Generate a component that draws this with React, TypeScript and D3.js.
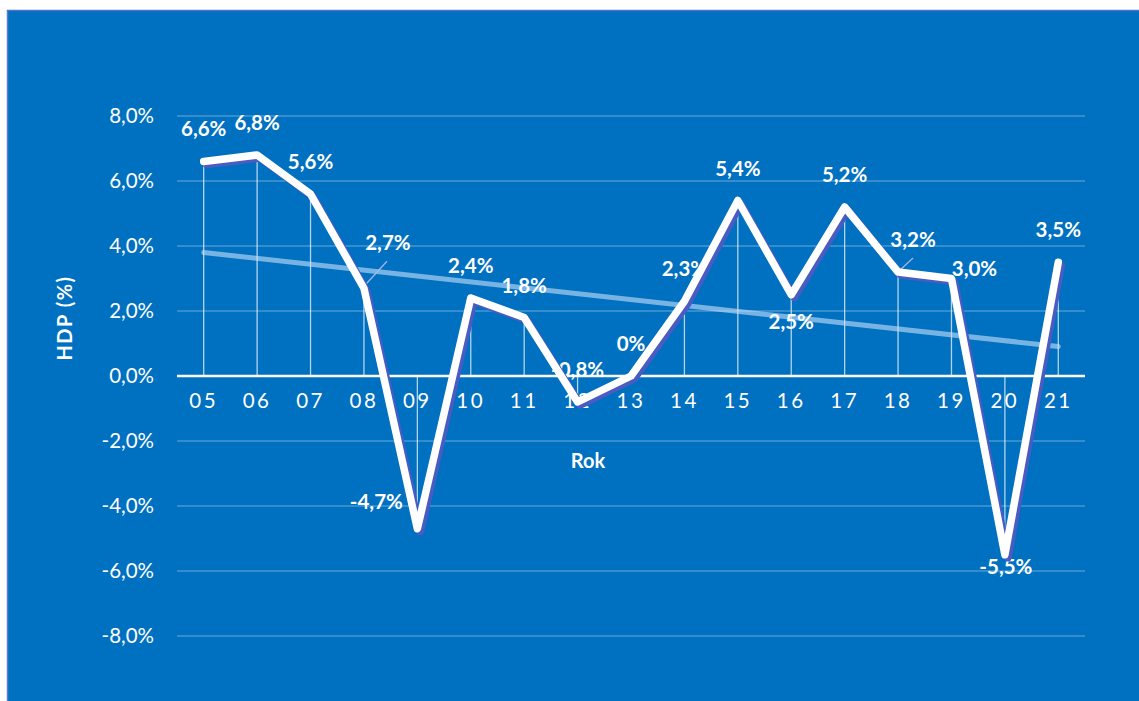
import React from "react";
import * as d3 from "d3";

const years = ["05","06","07","08","09","10","11","12","13","14","15","16","17","18","19","20","21"];
const gdp = [6.6,6.8,5.6,2.7,-4.7,2.4,1.8,-0.8,0,2.3,5.4,2.5,5.2,3.2,3.0,-5.5,3.5];
const valueLabels = ["6,6%","6,8%","5,6%","2,7%","-4,7%","2,4%","1,8%","-0,8%","0%","2,3%","5,4%","2,5%","5,2%","3,2%","3,0%","-5,5%","3,5%"];
const yTicks = [8,6,4,2,0,-2,-4,-6,-8];
const yTickLabels = ["8,0%","6,0%","4,0%","2,0%","0,0%","-2,0%","-4,0%","-6,0%","-8,0%"];

const W = 1139, H = 701;
const FONT = "Lato, 'Open Sans', sans-serif";

export default function App() {
  const x = d3.scaleBand<string>().domain(years).range([177, 1085]).padding(0);
  const y = d3.scaleLinear().domain([-8, 8]).range([636, 116]);
  const cx = (i: number) => (x(years[i]) as number) + x.bandwidth() / 2;

  // linear regression trend
  const n = gdp.length;
  const mx = d3.mean(d3.range(n)) as number;
  const my = d3.mean(gdp) as number;
  let sxy = 0, sxx = 0;
  gdp.forEach((v, i) => { sxy += (i - mx) * (v - my); sxx += (i - mx) * (i - mx); });
  const slope = sxy / sxx;
  const icpt = my - slope * mx;
  const trend = [0, n - 1].map(i => [cx(i), y(icpt + slope * i)] as [number, number]);

  const line = d3.line<number>().x((_, i) => cx(i)).y(v => y(v));
  const path = line(gdp) || "";

  // label placement offsets (relative to point): [dx, dy of text center]
  const place: Record<number, [number, number]> = {
    0: [0, -33], 1: [0, -32], 3: [24, -45], 4: [-41, -27], 11: [0, 27],
    13: [15, -32], 14: [23, -10], 15: [1, 12],
  };
  const leaders: Record<number, [number, number, number, number]> = {
    3: [1, -3, 23, -27],
    13: [2, -2, 15, -14],
  };

  return (
    <svg width={W} height={H} style={{ position: "absolute", left: 0, top: 0 }} fontFamily={FONT}>
      <rect x={7} y={10} width={W - 7} height={H - 10} fill="#0070C0" />
      <line x1={7.5} y1={10} x2={7.5} y2={H} stroke="#5A7FD0" strokeWidth={1.5} />
      <line x1={7} y1={10.5} x2={W} y2={10.5} stroke="#4A72D0" strokeWidth={1.5} />

      {/* gridlines */}
      {yTicks.filter(t => t !== 0).map(t => (
        <line key={t} x1={177} x2={1085} y1={y(t)} y2={y(t)} stroke="rgba(255,255,255,0.28)" strokeWidth={1.5} />
      ))}
      {/* y tick labels */}
      {yTicks.map((t, i) => (
        <text key={t} x={154} y={y(t)} dy="0.35em" textAnchor="end" fill="#fff" fontSize={20.5}>{yTickLabels[i]}</text>
      ))}

      {/* drop lines */}
      {gdp.map((v, i) => (
        <line key={i} x1={cx(i)} x2={cx(i)} y1={y(v)} y2={y(0)} stroke="rgba(255,255,255,0.7)" strokeWidth={1.3} />
      ))}

      {/* zero axis */}
      <line x1={177} x2={1085} y1={y(0)} y2={y(0)} stroke="#fff" strokeWidth={2.5} />

      {/* category labels */}
      {years.map((yr) => (
        <text key={yr} x={(x(yr) as number) + x.bandwidth() / 2} y={y(0) + 32} textAnchor="middle" fill="#fff" fontSize={20.5} letterSpacing={2.5}>{yr}</text>
      ))}

      {/* trend */}
      <line x1={trend[0][0]} y1={trend[0][1]} x2={trend[1][0]} y2={trend[1][1]} stroke="rgba(200,225,250,0.6)" strokeWidth={5} strokeLinecap="round" />

      {/* leader lines */}
      {Object.entries(leaders).map(([k, l]) => {
        const i = +k;
        return <line key={k} x1={cx(i) + l[0]} y1={y(gdp[i]) + l[1]} x2={cx(i) + l[2]} y2={y(gdp[i]) + l[3]} stroke="#A8B8E8" strokeWidth={1.2} />;
      })}

      {/* data labels */}
      {gdp.map((v, i) => {
        const [dx, dy] = place[i] || [0, -32];
        return (
          <text key={i} x={cx(i) + dx} y={y(v) + dy} dy="0.35em" textAnchor="middle" fill="#fff" fontSize={20.5} fontWeight="bold">{valueLabels[i]}</text>
        );
      })}

      {/* line shadow + line */}
      <path d={path} transform="translate(3,3)" fill="none" stroke="#4A5CC2" strokeWidth={7.5} strokeLinejoin="round" strokeLinecap="round" />
      <path d={path} fill="none" stroke="#fff" strokeWidth={7.5} strokeLinejoin="round" strokeLinecap="round" />

      {/* axis titles */}
      <text x={588} y={461} dy="0.35em" textAnchor="middle" fill="#fff" fontSize={20} fontWeight="bold">Rok</text>
      <text transform="translate(65,318) rotate(-90)" dy="0.35em" textAnchor="middle" fill="#fff" fontSize={20} fontWeight="bold" letterSpacing={1.5}>HDP (%)</text>
    </svg>
  );
}
